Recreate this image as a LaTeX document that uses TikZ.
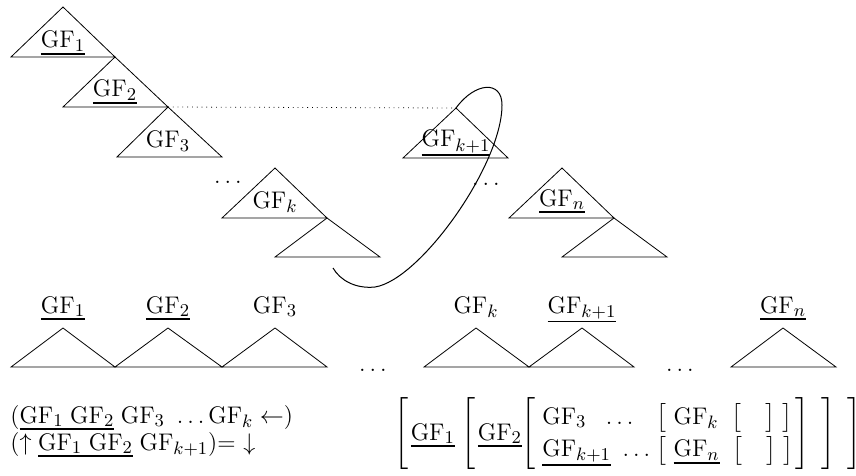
\documentclass[tikz,border=0pt]{standalone}
\usepackage{amsmath}
\usepackage{tikz}
\usetikzlibrary{positioning}
\DeclareMathSizes{12}{12}{9}{7}

\newcommand{\gf}[1]{\mathrm{GF}_{#1}}
\newcommand{\gful}[1]{\mathord{\vtop{\hbox{$#1$}\kern0.8pt\hrule height 0.9pt}}}
\newcommand{\avmo}{\mathopen{\left[\vcenter to 35pt{}\right.}}
\newcommand{\avmc}{\mathclose{\left.\vcenter to 35pt{}\right]}}

\begin{document}
\begin{tikzpicture}[
  x=0.5pt, y=-0.5pt, font=\large,
  tri/.style={line width=0.4pt},
  lbl/.style={anchor=base, inner sep=0pt},
  dts/.style={anchor=base, inner sep=0pt},
  lnk/.style={dotted, line width=0.4pt},
  loop/.style={line width=0.5pt}
]
\useasboundingbox (0,0) rectangle (856,476);

% stacked trees
\draw[tri] (63,7) -- (115,57) -- (11,57) -- cycle;
\draw[tri] (115,57) -- (168,107) -- (63,107) -- cycle;
\draw[tri] (168,107) -- (222,157) -- (117,157) -- cycle;
\draw[tri] (275,168) -- (327,218) -- (222,218) -- cycle;
\draw[tri] (327,218) -- (380,257) -- (275,257) -- cycle;
\draw[tri] (456,108) -- (508,158) -- (403,158) -- cycle;
\draw[tri] (562,168) -- (614,218) -- (509,218) -- cycle;
\draw[tri] (614,218) -- (667,257) -- (562,257) -- cycle;

\node[lbl] (t1) at (63,48) {$\gful{\gf{1}}$};
\node[lbl] (t2) at (115,97) {$\gful{\gf{2}}$};
\node[lbl] (t3) at (168,148) {$\gf{3}$};
\node[lbl] (tk) at (275,208) {$\gf{k}$};
\node[lbl] (tk1) at (456,147) {$\gful{\gf{k+1}}$};
\node[lbl] (tn) at (562,206) {$\gful{\gf{n}}$};
\node[dts] (da) at (228,184) {$\ldots$};
\node[dts] (db) at (486,185) {$\ldots$};

\coordinate (top3) at (168,107);
\coordinate (topk1) at (456,108);
\draw[lnk] (top3) -- (topk1);
\draw[loop] (topk1) .. controls (475,82) and (502,80) .. (502,105)
  .. controls (502,165) and (420,280) .. (375,287)
  .. controls (355,289) and (340,280) .. (333,268);

% flat row
\draw[tri] (63,328) -- (115,367) -- (11,367) -- cycle;
\draw[tri] (168,328) -- (222,367) -- (115,367) -- cycle;
\draw[tri] (275,328) -- (327,367) -- (222,367) -- cycle;
\draw[tri] (476,328) -- (529,367) -- (424,367) -- cycle;
\draw[tri] (582,328) -- (634,367) -- (529,367) -- cycle;
\draw[tri] (783,328) -- (836,367) -- (731,367) -- cycle;

\node[lbl] (r1) at (63,313) {$\gful{\gf{1}}$};
\node[lbl] (r2) at (168,313) {$\gful{\gf{2}}$};
\node[lbl] (r3) at (275,313) {$\gf{3}$};
\node[lbl] (rk) at (476,313) {$\gf{k}$};
\node[lbl] (rk1) at (582,313) {$\gful{\gf{k+1}}$};
\node[lbl] (rn) at (783,313) {$\gful{\gf{n}}$};
\node[dts] (dc) at (373,371) {$\ldots$};
\node[dts] (dd) at (680,371) {$\ldots$};

% equations and AVM
\node[anchor=base west, inner sep=0pt] (eqa) at (10,423)
  {$(\gful{\gf{1}\;\gf{2}}\;\gf{3}\ \ldots\gf{k}\leftarrow)$};
\node[anchor=base west, inner sep=0pt] (eqb) at (10,450)
  {$(\uparrow\gful{\gf{1}\;\gf{2}}\;\gf{k+1})$=~$\downarrow$};
\node[anchor=west, inner sep=0pt] (avm) at (394,434)
  {\delimiterfactor=1000 \delimitershortfall=0pt \renewcommand\arraystretch{1.15}%
  $\avmo\gful{\gf{1}}\;\avmo\gful{\gf{2}}\avmo\begin{array}{@{\,}l@{\;}l@{}}
    \gf{3}\ \ \ldots & \bigl[\;\gf{k}\;\;\bigl[\quad\bigr]\;\bigr]\\
    \gful{\gf{k+1}}\ \ldots & \bigl[\;\gful{\gf{n}}\;\;\bigl[\quad\bigr]\;\bigr]
  \end{array}\avmc\mkern7mu\avmc\mkern7mu\avmc$};
\end{tikzpicture}
\end{document}
